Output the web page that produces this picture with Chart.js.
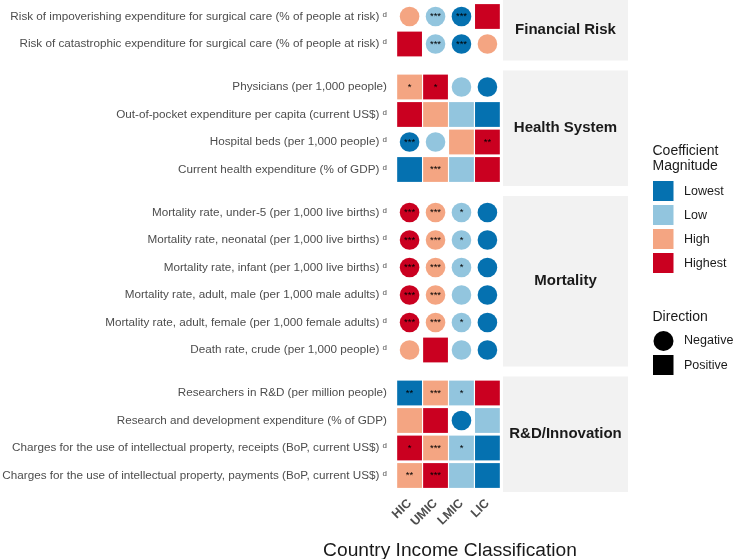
<!DOCTYPE html>
<html><head><meta charset="utf-8">
<script src="https://cdn.jsdelivr.net/npm/chart.js@4.4.1/dist/chart.umd.min.js"></script>
<style>html,body{margin:0;padding:0;background:#fff;} canvas{display:block;}</style>
</head><body>
<canvas id="c" width="733" height="559"></canvas>
<script>
const incomeGroups = ['HIC', 'UMIC', 'LMIC', 'LIC'];
const domains = ['Financial Risk', 'Health System', 'Mortality', 'R&D/Innovation'];
const domainSizes = [2, 4, 6, 4];
const indicators = [
  'Risk of impoverishing expenditure for surgical care (% of people at risk) ᵈ',
  'Risk of catastrophic expenditure for surgical care (% of people at risk) ᵈ',
  'Physicians (per 1,000 people)',
  'Out-of-pocket expenditure per capita (current US$) ᵈ',
  'Hospital beds (per 1,000 people) ᵈ',
  'Current health expenditure (% of GDP) ᵈ',
  'Mortality rate, under-5 (per 1,000 live births) ᵈ',
  'Mortality rate, neonatal (per 1,000 live births) ᵈ',
  'Mortality rate, infant (per 1,000 live births) ᵈ',
  'Mortality rate, adult, male (per 1,000 male adults) ᵈ',
  'Mortality rate, adult, female (per 1,000 female adults) ᵈ',
  'Death rate, crude (per 1,000 people) ᵈ',
  'Researchers in R&D (per million people)',
  'Research and development expenditure (% of GDP)',
  'Charges for the use of intellectual property, receipts (BoP, current US$) ᵈ',
  'Charges for the use of intellectual property, payments (BoP, current US$) ᵈ'
];
const magnitudeLevels = ['Lowest', 'Low', 'High', 'Highest'];
// magnitude index (0 = Lowest ... 3 = Highest), indicator order
const magnitudeHIC  = [2,3,2,3,0,0,3,3,3,3,3,2,0,2,3,2];
const magnitudeUMIC = [1,1,3,2,1,2,2,2,2,2,2,3,2,3,2,3];
const magnitudeLMIC = [0,0,1,1,2,1,1,1,1,1,1,1,1,0,1,1];
const magnitudeLIC  = [3,2,0,0,3,3,0,0,0,0,0,0,3,1,0,0];
// direction: N = negative, P = positive
const directionHIC  = ['N','P','P','P','N','P','N','N','N','N','N','N','P','P','P','P'];
const directionUMIC = ['N','N','P','P','N','P','N','N','N','N','N','P','P','P','P','P'];
const directionLMIC = ['N','N','N','P','P','P','N','N','N','N','N','N','P','N','P','P'];
const directionLIC  = ['P','N','N','P','P','P','N','N','N','N','N','N','P','P','P','P'];
// significance stars
const starsHIC  = ['','','*','','***','','***','***','***','***','***','','**','','*','**'];
const starsUMIC = ['***','***','*','','','***','***','***','***','***','***','','***','','***','***'];
const starsLMIC = ['***','***','','','','','*','*','*','','*','','*','','*',''];
const starsLIC  = ['','','','','**','','','','','','','','','','',''];

const magnitudeColors = ['#0571B0', '#92C5DE', '#F4A582', '#CA0020'];
const directionLabels = ['Negative', 'Positive'];
const xTitle = 'Country Income Classification';

const magnitudes = [magnitudeHIC, magnitudeUMIC, magnitudeLMIC, magnitudeLIC];
const directions = [directionHIC, directionUMIC, directionLMIC, directionLIC];
const stars = [starsHIC, starsUMIC, starsLMIC, starsLIC];

// facet layout in row units
const GAP = 10 / 27.5;
const rowPos = [];
const groupBounds = [];
let cursor = 0;
domainSizes.forEach(n => {
  groupBounds.push([cursor, cursor + n + 0.2]);
  for (let i = 0; i < n; i++) rowPos.push(cursor + 0.6 + i);
  cursor += n + 0.2 + GAP;
});
const yMax = cursor - GAP;

const FONT = "'Liberation Sans', Arial, Helvetica, sans-serif";
Chart.defaults.font.family = FONT;

const CIRCLE_R = 9.8;
const RECT_R = 24.8 / Math.SQRT2;

const datasets = incomeGroups.map((g, gi) => ({
  label: g,
  data: indicators.map((_, i) => ({ x: gi, y: rowPos[i] })),
  backgroundColor: magnitudes[gi].map(m => magnitudeColors[m]),
  pointStyle: directions[gi].map(d => d === 'N' ? 'circle' : 'rect'),
  pointRadius: directions[gi].map(d => d === 'N' ? CIRCLE_R : RECT_R),
  pointBorderWidth: 0,
  borderWidth: 0
}));

const extras = {
  id: 'extras',
  beforeDraw(chart) {
    const ctx = chart.ctx;
    ctx.save();
    ctx.fillStyle = '#fff';
    ctx.fillRect(0, 0, chart.width, chart.height);
    const ys = chart.scales.y;
    const left = chart.chartArea.right, right = 628;
    groupBounds.forEach((b, gi) => {
      const t = ys.getPixelForValue(b[0]), bt = ys.getPixelForValue(b[1]);
      ctx.fillStyle = '#F2F2F2';
      ctx.fillRect(left, t, right - left, bt - t);
      ctx.fillStyle = '#1A1A1A';
      ctx.font = 'bold 15px ' + FONT;
      ctx.textAlign = 'center';
      ctx.textBaseline = 'middle';
      ctx.fillText(domains[gi], (left + right) / 2, (t + bt) / 2);
    });
    ctx.restore();
  },
  afterDatasetsDraw(chart) {
    const ctx = chart.ctx;
    ctx.save();
    ctx.fillStyle = '#000';
    ctx.font = '9.5px ' + FONT;
    ctx.textAlign = 'center';
    ctx.textBaseline = 'middle';
    chart.data.datasets.forEach((ds, gi) => {
      const meta = chart.getDatasetMeta(gi);
      meta.data.forEach((pt, i) => {
        const s = stars[gi][i];
        if (s) ctx.fillText(s, pt.x, pt.y);
      });
    });
    ctx.restore();
  },
  afterDraw(chart) {
    const ctx = chart.ctx;
    ctx.save();
    // x-axis title centred under the panel
    const ca = chart.chartArea;
    ctx.fillStyle = '#1A1A1A';
    ctx.font = '19.2px ' + FONT;
    ctx.textAlign = 'center';
    ctx.textBaseline = 'alphabetic';
    ctx.fillText(xTitle, (ca.left + ca.right) / 2 + 1.5, 556);

    const lx = 652.5;
    ctx.textAlign = 'left';
    ctx.font = '14px ' + FONT;
    ctx.fillText('Coefficient', lx, 155);
    ctx.fillText('Magnitude', lx, 169.5);
    ctx.font = '12.5px ' + FONT;
    magnitudeLevels.forEach((lab, i) => {
      const top = 181 + i * 24;
      ctx.fillStyle = magnitudeColors[i];
      ctx.fillRect(lx + 0.5, top, 20.5, 20);
      ctx.fillStyle = '#1A1A1A';
      ctx.textBaseline = 'middle';
      ctx.fillText(lab, 684, top + 10.5);
    });
    ctx.textBaseline = 'alphabetic';
    ctx.font = '14px ' + FONT;
    ctx.fillText('Direction', lx, 321);
    ctx.font = '12.5px ' + FONT;
    ctx.fillStyle = '#000';
    ctx.beginPath();
    ctx.arc(663.5, 341, 10, 0, Math.PI * 2);
    ctx.fill();
    ctx.fillRect(lx + 0.5, 355, 20.5, 20);
    ctx.fillStyle = '#1A1A1A';
    ctx.textBaseline = 'middle';
    ctx.fillText(directionLabels[0], 684, 340.5);
    ctx.fillText(directionLabels[1], 684, 365.5);
    ctx.restore();
  }
};

new Chart(document.getElementById('c'), {
  type: 'scatter',
  data: { datasets },
  options: {
    responsive: false,
    animation: false,
    devicePixelRatio: 1,
    events: [],
    layout: { autoPadding: false, padding: { left: 0, right: 230, top: 0, bottom: 0 } },
    plugins: { legend: { display: false }, tooltip: { enabled: false } },
    scales: {
      x: {
        type: 'linear', min: -0.6, max: 3.6,
        afterBuildTicks: s => { s.ticks = incomeGroups.map((_, i) => ({ value: i })); },
        ticks: {
          autoSkip: false, minRotation: 45, maxRotation: 45, padding: 4,
          color: '#4D4D4D', font: { size: 12.5, weight: 'bold' },
          callback: (v, i) => incomeGroups[i]
        },
        grid: { display: false, drawTicks: false },
        border: { display: false },
        title: { display: false },
        afterFit: s => { s.height = 67; s.paddingLeft = 0; s.paddingRight = 0; }
      },
      y: {
        type: 'linear', reverse: true, min: 0, max: yMax,
        afterBuildTicks: s => { s.ticks = rowPos.map(v => ({ value: v })); },
        ticks: {
          autoSkip: false, padding: 7, color: '#4D4D4D', font: { size: 11.7 },
          callback: (v, i) => indicators[i]
        },
        grid: { display: false, drawTicks: false },
        border: { display: false },
        afterFit: s => { s.width = 394; s.paddingTop = 0; s.paddingBottom = 0; }
      }
    }
  },
  plugins: [extras]
});
</script>
</body></html>
